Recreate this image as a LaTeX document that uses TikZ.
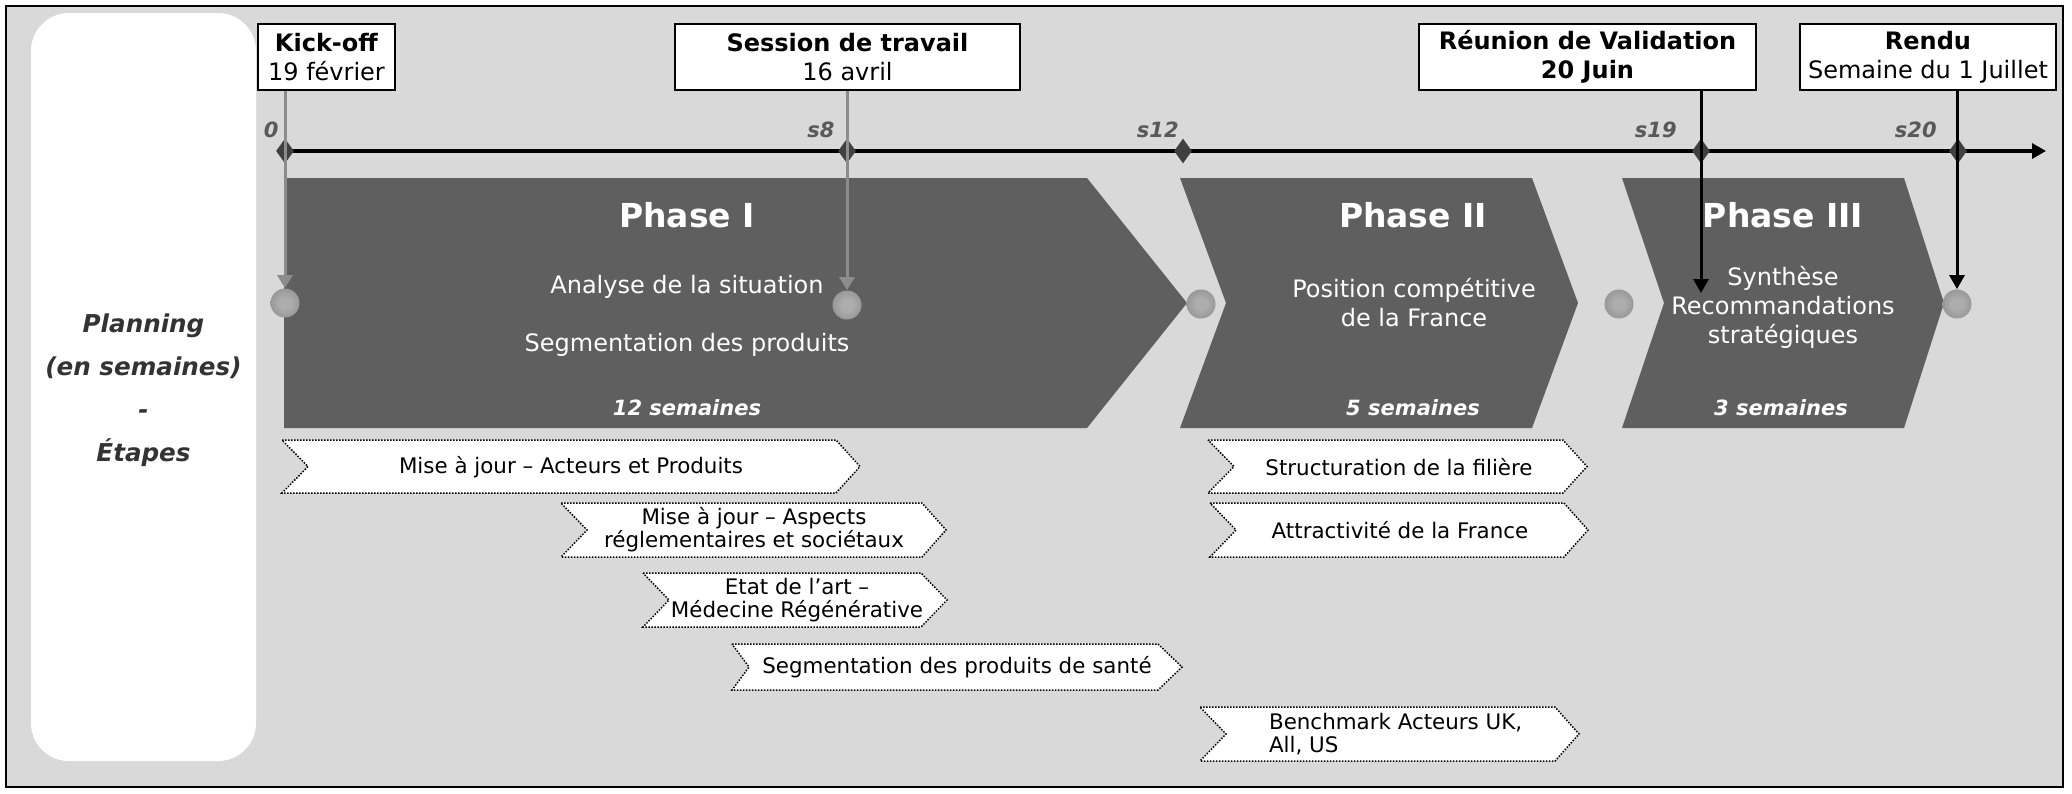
\documentclass[tikz,border=0pt]{standalone}
\usepackage{fontspec}
\setmainfont{DejaVu Sans}
\usetikzlibrary{shapes.geometric,arrows.meta}
\definecolor{bg}{HTML}{D9D9D9}
\definecolor{phasec}{HTML}{5F5F5F}
\definecolor{diamc}{HTML}{404040}
\definecolor{arrowgray}{HTML}{8C8C8C}
\definecolor{labgray}{HTML}{595959}
\definecolor{plantext}{HTML}{333333}
\definecolor{ballA}{HTML}{ADADAD}
\definecolor{ballB}{HTML}{8C8C8C}
\definecolor{ballC}{HTML}{666666}
\pgfdeclareradialshading{msshade}{\pgfpoint{0bp}{0bp}}{color(0bp)=(ballA); color(10bp)=(ballA); color(34bp)=(ballB); color(50bp)=(ballC)}
\newcommand{\taskchev}[6]{%
  \draw[taskshape] (#1,#3) -- ({#2-#6},#3) -- (#2,{(#3+#4)/2}) -- ({#2-#6},#4) -- (#1,#4) -- ({#1+#5},{(#3+#4)/2}) -- cycle;}
\begin{document}
\begin{tikzpicture}[x=0.5pt,y=-0.5pt,
  frame/.style={draw=black,line width=1pt,fill=bg},
  plan/.style={anchor=base,text=plantext,font=\bfseries\itshape\fontsize{12.3}{15}\selectfont},
  milebox/.style={draw=black,line width=1.2pt,fill=white,inner sep=2pt,align=center,minimum height=33pt,font=\fontsize{12}{14.5}\selectfont},
  axisline/.style={draw=black,line width=1.6pt,-{Triangle[length=7pt,width=7.5pt]}},
  tickmark/.style={diamond,fill=diamc,inner sep=0pt,minimum width=9pt,minimum height=12.5pt},
  axislab/.style={anchor=base east,inner sep=0pt,text=labgray,font=\bfseries\itshape\fontsize{10.5}{12}\selectfont},
  phaseshape/.style={fill=phasec},
  phasetitle/.style={anchor=base,text=white,font=\bfseries\fontsize{16.5}{20}\selectfont},
  phasebody/.style={anchor=base,text=white,font=\fontsize{12}{14}\selectfont},
  phasedur/.style={anchor=base,text=white,font=\bfseries\itshape\fontsize{10.5}{12}\selectfont},
  taskshape/.style={draw=black,fill=white,line width=0.75pt,dash pattern=on 0.75pt off 0.75pt},
  tasktext/.style={align=center,text=black,font=\fontsize{10.7}{11.6}\selectfont},
  msball/.style={circle,minimum size=14.5pt,inner sep=0pt,shading=msshade},
  grayconn/.style={draw=arrowgray,line width=1.5pt,-{Triangle[length=6.5pt,width=7.5pt]}},
  blackconn/.style={draw=black,line width=1.5pt,-{Triangle[length=7pt,width=7.5pt]}}
]
\useasboundingbox (0,0) rectangle (2072,793);
\draw[frame] (6,6) rectangle (2063,787);
\fill[white,rounded corners=19pt] (31,13) rectangle (256,761);

% left label
\node[plan] (pl1) at (143.5,332) {Planning};
\node[plan] (pl2) at (143.5,375) {(en semaines)};
\node[plan] (pl3) at (143.5,418) {-};
\node[plan] (pl4) at (143.5,461) {Étapes};

% milestone boxes
\node[milebox,minimum width=68.5pt] (kick) at (326.5,57) {\textbf{Kick-off}\\19 février};
\node[milebox,minimum width=172.5pt] (sess) at (847.5,57) {\textbf{Session de travail}\\16 avril};
\node[milebox,minimum width=168.5pt] (reun) at (1587.5,57) {\textbf{Réunion de Validation}\\\textbf{20 Juin}};
\node[milebox,minimum width=128pt] (rendu) at (1928,57) {\textbf{Rendu}\\Semaine du 1 Juillet};

% axis
\coordinate (ax0) at (285,151);
\coordinate (axend) at (2046,151);
\draw[axisline] (ax0) -- (axend);
\node[tickmark] (t0) at (285,151) {};
\node[tickmark] (t8) at (847,151) {};
\node[tickmark] (t12) at (1183,151) {};
\node[tickmark] (t19) at (1701,151) {};
\node[tickmark] (t20) at (1958,151) {};
\node[axislab] (l0) at (279,137) {0};
\node[axislab] (l8) at (835,137) {s8};
\node[axislab] (l12) at (1179,137) {s12};
\node[axislab] (l19) at (1677,137) {s19};
\node[axislab] (l20) at (1937,137) {s20};

% phases
\fill[phaseshape] (284,178) -- (1087,178) -- (1187,303) -- (1087,428) -- (284,428) -- cycle;
\fill[phaseshape] (1180,178) -- (1532,178) -- (1578,303) -- (1532,428) -- (1180,428) -- (1226,303) -- cycle;
\fill[phaseshape] (1622,178) -- (1904,178) -- (1944,303) -- (1904,428) -- (1622,428) -- (1664,303) -- cycle;

\node[phasetitle] (p1) at (687,227) {Phase I};
\node[phasebody] (p1a) at (687,293) {Analyse de la situation};
\node[phasebody] (p1b) at (687,351) {Segmentation des produits};
\node[phasedur] (p1d) at (687,415) {12 semaines};

\node[phasetitle] (p2) at (1413,227) {Phase II};
\node[phasebody] (p2a) at (1414,297) {Position compétitive};
\node[phasebody] (p2b) at (1414,326) {de la France};
\node[phasedur] (p2d) at (1413,415) {5 semaines};

\node[phasetitle] (p3) at (1783,227) {Phase III};
\node[phasebody] (p3a) at (1783,285) {Synthèse};
\node[phasebody] (p3b) at (1783,314) {Recommandations};
\node[phasebody] (p3c) at (1783,343) {stratégiques};
\node[phasedur] (p3d) at (1781,415) {3 semaines};

% tasks
\taskchev{282}{860}{440}{493}{26}{24}
\node[tasktext] (k1) at (571,467) {Mise à jour – Acteurs et Produits};
\taskchev{561}{946}{503}{557}{26}{24}
\node[tasktext] (k2) at (754,530) {Mise à jour – Aspects\\réglementaires et sociétaux};
\taskchev{643}{947}{573}{627}{26}{26}
\node[tasktext] (k3) at (797,600) {Etat de l’art –\\Médecine Régénérative};
\taskchev{732}{1182}{644}{690}{17}{24}
\node[tasktext] (k4) at (957,667) {Segmentation des produits de santé};
\taskchev{1208}{1587}{440}{493}{26}{24}
\node[tasktext] (k5) at (1399,467) {Structuration de la filière};
\taskchev{1210}{1588}{503}{557}{26}{24}
\node[tasktext] (k6) at (1400,530) {Attractivité de la France};
\taskchev{1200}{1579}{707}{761}{26}{24}
\node[tasktext,align=left,anchor=west] (k7) at (1262,734) {Benchmark Acteurs UK,\\All, US};

% milestone balls
\node[msball] (c0) at (285,303) {};
\node[msball] (c8) at (847,305) {};
\node[msball] (c12) at (1201,304) {};
\node[msball] (c19) at (1619,304) {};
\node[msball] (c20) at (1957,304) {};
\coordinate (r19) at (1701,293);

% connectors
\draw[grayconn] (kick.south -| c0) -- (c0.north);
\draw[grayconn] (sess.south -| c8) -- (c8.north);
\draw[blackconn] (reun.south -| r19) -- (r19);
\draw[blackconn] (rendu.south -| c20) -- (c20.north);
\end{tikzpicture}
\end{document}
